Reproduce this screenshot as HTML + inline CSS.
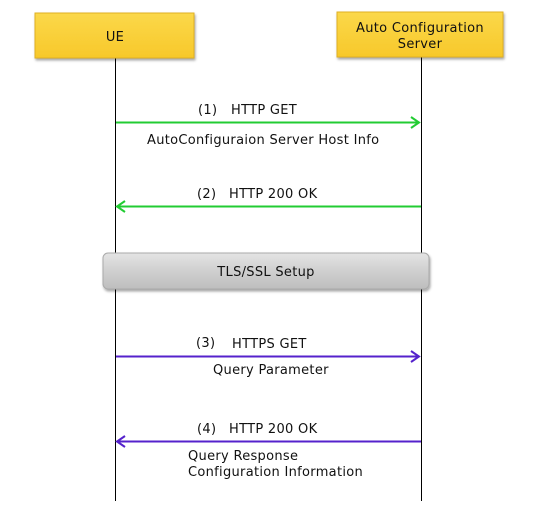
<!DOCTYPE html>
<html><head><meta charset="utf-8"><style>
html,body{margin:0;padding:0;background:#fff;}
svg{display:block;font-family:"DejaVu Sans","Liberation Sans",sans-serif;font-size:13px;letter-spacing:0.3px;fill:#111;}
</style></head><body>
<svg width="548" height="511" viewBox="0 0 548 511" xmlns="http://www.w3.org/2000/svg">
<defs>
<linearGradient id="y" x1="0" y1="0" x2="0" y2="1">
<stop offset="0" stop-color="#fbd84a"/><stop offset="1" stop-color="#f7c82a"/></linearGradient>
<linearGradient id="g" x1="0" y1="0" x2="0" y2="1">
<stop offset="0" stop-color="#e4e4e4"/><stop offset="0.5" stop-color="#cfcfcf"/><stop offset="1" stop-color="#bdbdbd"/></linearGradient>
<filter id="s" x="-10%" y="-20%" width="120%" height="150%"><feDropShadow dx="1" dy="2" stdDeviation="1.2" flood-color="#000" flood-opacity="0.35"/></filter>
</defs>
<line x1="115.5" y1="58" x2="115.5" y2="501" stroke="#000" stroke-width="1"/>
<line x1="421.5" y1="57" x2="421.5" y2="501" stroke="#000" stroke-width="1"/>
<rect x="35" y="13" width="159" height="45" fill="url(#y)" stroke="#e0b020" filter="url(#s)"/>
<rect x="337" y="12" width="166" height="45" fill="url(#y)" stroke="#e0b020" filter="url(#s)"/>
<text x="115" y="41" text-anchor="middle">UE</text>
<text x="420" y="32" text-anchor="middle">Auto Configuration</text>
<text x="420" y="48" text-anchor="middle">Server</text>
<line x1="116" y1="122.5" x2="419" y2="122.5" stroke="#22cc33" stroke-width="2"/>
<polyline points="411,117 419,122.5 411,128" fill="none" stroke="#22cc33" stroke-width="2"/>
<text x="198" y="114">(1)</text><text x="231" y="114">HTTP GET</text>
<text x="147" y="144">AutoConfiguraion Server Host Info</text>
<line x1="117" y1="206.5" x2="421" y2="206.5" stroke="#22cc33" stroke-width="2"/>
<polyline points="125,201 117,206.5 125,212" fill="none" stroke="#22cc33" stroke-width="2"/>
<text x="197" y="198">(2)</text><text x="229" y="198">HTTP 200 OK</text>
<rect x="103" y="253" width="326" height="36" rx="5" fill="url(#g)" stroke="#aaa" filter="url(#s)"/>
<text x="266" y="276" text-anchor="middle">TLS/SSL Setup</text>
<line x1="116" y1="356.5" x2="419" y2="356.5" stroke="#5522cc" stroke-width="2"/>
<polyline points="411,351 419,356.5 411,362" fill="none" stroke="#5522cc" stroke-width="2"/>
<text x="196" y="347">(3)</text><text x="232" y="348">HTTPS GET</text>
<text x="213" y="374">Query Parameter</text>
<line x1="117" y1="441.5" x2="421" y2="441.5" stroke="#5522cc" stroke-width="2"/>
<polyline points="125,436 117,441.5 125,447" fill="none" stroke="#5522cc" stroke-width="2"/>
<text x="197" y="433">(4)</text><text x="229" y="433">HTTP 200 OK</text>
<text x="188" y="460">Query Response</text>
<text x="188" y="476">Configuration Information</text>
</svg>
</body></html>
